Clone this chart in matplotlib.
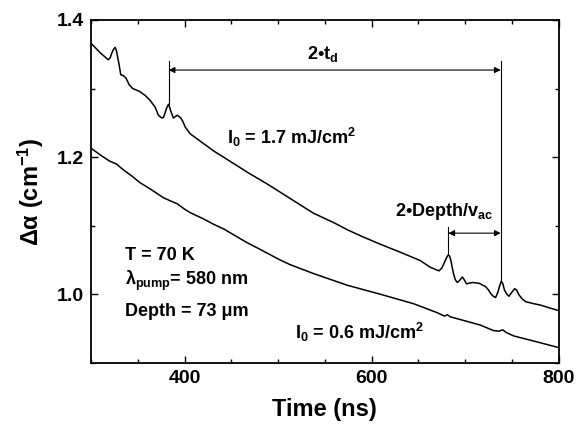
import matplotlib
matplotlib.use("Agg")
import matplotlib.pyplot as plt
from matplotlib.ticker import MultipleLocator

t_high = [300, 305, 310, 315, 318.5, 320.5, 322, 324, 325.7, 327, 328, 330, 331.8,
          334.6, 337.5, 341, 344.6, 351.7, 357.8, 363, 368.5, 372, 375.7, 377.5,
          379, 381, 382.8, 384, 385.3, 388, 390, 392.4, 396, 398.5, 400.6, 406,
          417, 431, 452, 467, 488, 502, 524, 538, 560, 574, 590, 609, 631, 652,
          663, 672, 675, 677.4, 680, 681.7, 683.2, 684.6, 686, 687.5, 689.5, 691.6,
          694, 697, 699, 701.5, 704, 707.6, 714.7, 721.8, 725, 727.2, 730, 732.5,
          735, 736.8, 738.6, 740.3, 742, 744.5, 746.8, 750, 752.9, 755, 757.5,
          761, 764.7, 773.6, 780.7, 790, 800]
a_high = [1.366, 1.359, 1.352, 1.346, 1.342, 1.345, 1.351, 1.357, 1.360, 1.356,
          1.349, 1.335, 1.320, 1.319, 1.315, 1.305, 1.300, 1.296, 1.290, 1.283,
          1.273, 1.261, 1.257, 1.258, 1.264, 1.272, 1.277, 1.273, 1.267, 1.257,
          1.259, 1.261, 1.257, 1.251, 1.244, 1.234, 1.223, 1.209, 1.191, 1.178,
          1.161, 1.149, 1.130, 1.118, 1.104, 1.094, 1.084, 1.073, 1.061, 1.049,
          1.039, 1.034, 1.038, 1.045, 1.053, 1.057, 1.056, 1.050, 1.040, 1.030,
          1.021, 1.017, 1.020, 1.025, 1.021, 1.015, 1.016, 1.017, 1.016, 1.011,
          1.006, 1.001, 0.997, 0.995, 1.003, 1.012, 1.019, 1.015, 1.006, 1.000,
          0.997, 1.003, 1.008, 1.006, 0.999, 0.993, 0.989, 0.986, 0.984, 0.980,
          0.976]

t_low = [300, 310, 320, 327, 335, 344, 352, 365, 377, 385, 392, 400, 406, 420,
         431, 442, 467, 477, 502, 513, 538, 574, 609, 645, 670, 678, 681, 684,
         700, 716, 730, 736, 740, 744, 752, 775, 800]
a_low = [1.213, 1.203, 1.194, 1.190, 1.181, 1.172, 1.163, 1.152, 1.141, 1.136,
         1.132, 1.124, 1.119, 1.110, 1.102, 1.095, 1.075, 1.068, 1.050, 1.043,
         1.030, 1.013, 1.000, 0.986, 0.973, 0.968, 0.970, 0.967, 0.961, 0.955,
         0.947, 0.946, 0.948, 0.944, 0.939, 0.931, 0.922]

# echo markers
t_echo1 = 383
t_echo2 = 738
t_echo3 = 682
a_peak1 = 1.277
a_peak2 = 1.019
a_peak3 = 1.057

plt.rcParams["font.family"] = ["Liberation Sans", "DejaVu Sans"]
plt.rcParams["font.weight"] = "bold"
plt.rcParams["mathtext.fontset"] = "custom"
plt.rcParams["mathtext.rm"] = "Liberation Sans:bold"
plt.rcParams["mathtext.it"] = "Liberation Sans:bold"
plt.rcParams["mathtext.bf"] = "Liberation Sans:bold"
plt.rcParams["mathtext.default"] = "rm"

fig = plt.figure(figsize=(5.82, 4.30), dpi=100)
ax = fig.add_axes([0.1564, 0.1565, 0.8036, 0.797])

ax.plot(t_high, a_high, color="black", lw=1.1, solid_joinstyle="round")
ax.plot(t_low, a_low, color="black", lw=1.1, solid_joinstyle="round")

ax.set_xlim(300, 800)
ax.set_ylim(0.9, 1.4)
ax.xaxis.set_minor_locator(MultipleLocator(50))
ax.yaxis.set_minor_locator(MultipleLocator(0.1))
ax.set_xticks([400, 600, 800])
ax.set_yticks([1.0, 1.2, 1.4])
ax.set_yticklabels(["1.0", "1.2", "1.4"])
ax.tick_params(which="both", direction="in", top=True, right=True, width=1.0,
               labelsize=14, pad=5)
ax.tick_params(which="major", length=5)
ax.tick_params(which="minor", length=3)
for s in ax.spines.values():
    s.set_linewidth(1.3)

ax.set_xlabel("Time (ns)", fontsize=17, fontweight="bold", labelpad=8)
ax.set_ylabel(r"Δα (cm$^{-1}$)", fontsize=17, fontweight="bold", labelpad=8)

# 2 t_d annotation
ax.plot([t_echo1, t_echo1], [a_peak1, 1.340], color="black", lw=0.8)
ax.plot([t_echo2, t_echo2], [a_peak2, 1.340], color="black", lw=0.8)
ax.annotate("", xy=(t_echo1, 1.327), xytext=(t_echo2, 1.327),
            arrowprops=dict(arrowstyle="<|-|>", color="black", lw=0.8,
                            mutation_scale=9, shrinkA=0, shrinkB=0))
ax.text(548, 1.350, r"2•t$_\mathrm{d}$", fontsize=13, fontweight="bold",
        ha="center", va="center")

# 2 Depth/v_ac annotation
ax.plot([t_echo3, t_echo3], [a_peak3, 1.098], color="black", lw=0.8)
ax.annotate("", xy=(t_echo3, 1.089), xytext=(t_echo2, 1.089),
            arrowprops=dict(arrowstyle="<|-|>", color="black", lw=0.8,
                            mutation_scale=9, shrinkA=0, shrinkB=0))
ax.text(677, 1.120, r"2•Depth/v$_\mathrm{ac}$", fontsize=13, fontweight="bold",
        ha="center", va="center")

ax.text(445, 1.228, r"I$_0$ = 1.7 mJ/cm$^2$", fontsize=13, fontweight="bold",
        ha="left", va="center")
ax.text(518, 0.944, r"I$_0$ = 0.6 mJ/cm$^2$", fontsize=13, fontweight="bold",
        ha="left", va="center")

ax.text(336, 1.057, "T = 70 K", fontsize=13, fontweight="bold", va="center")
ax.text(336, 1.019, r"λ$_\mathrm{pump}$= 580 nm", fontsize=13, fontweight="bold",
        va="center")
ax.text(336, 0.975, "Depth = 73 μm", fontsize=13, fontweight="bold", va="center")

fig.savefig("out.png", dpi=100)
